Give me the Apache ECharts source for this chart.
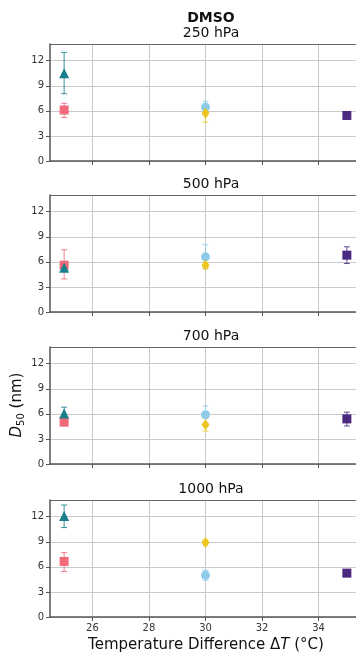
<!DOCTYPE html>
<html><head><meta charset="utf-8">
<script src="https://cdn.jsdelivr.net/npm/echarts@6/dist/echarts.min.js"></script>
<style>html,body{margin:0;padding:0;background:#fff}#c{width:356px;height:654px}</style>
</head><body><div id="c"></div>
<script>
const panelTitles = ['250 hPa', '500 hPa', '700 hPa', '1000 hPa'];
const xTickValues = [26, 28, 30, 32, 34];
const yTickValues = [0, 3, 6, 9, 12];

// each series: x position, values per panel, lower & upper error bounds per panel
const redX = 25;
const redY  = [6.1, 5.6, 5.0, 6.65];
const redLo = [5.2, 3.95, 4.85, 5.45];
const redHi = [6.9, 7.45, 5.15, 7.7];

const tealX = 25;
const tealY  = [10.5, 5.3, 6.05, 12.1];
const tealLo = [8.05, 5.05, 5.4, 10.7];
const tealHi = [13.0, 5.55, 6.8, 13.4];

const blueX = 30;
const blueY  = [6.45, 6.6, 5.9, 5.0];
const blueLo = [5.75, 5.15, 4.85, 4.4];
const blueHi = [7.15, 8.05, 6.95, 5.6];

const yellowX = 30;
const yellowY  = [5.7, 5.6, 4.7, 8.9];
const yellowLo = [4.65, 5.25, 3.95, 8.6];
const yellowHi = [6.3, 5.95, 5.45, 9.2];

const purpleX = 35;
const purpleY  = [5.45, 6.8, 5.4, 5.25];
const purpleLo = [5.0, 5.8, 4.55, 5.0];
const purpleHi = [5.85, 7.8, 6.2, 5.5];

const groups = [
  {x: redX, y: redY, lo: redLo, hi: redHi, color: '#f06a7a', symbol: 'rect', size: 9},
  {x: tealX, y: tealY, lo: tealLo, hi: tealHi, color: '#17808a', symbol: 'triangle', size: 10},
  {x: blueX, y: blueY, lo: blueLo, hi: blueHi, color: '#8ecbe8', symbol: 'circle', size: 9},
  {x: yellowX, y: yellowY, lo: yellowLo, hi: yellowHi, color: '#ecc51e', symbol: 'diamond', size: [8, 11]},
  {x: purpleX, y: purpleY, lo: purpleLo, hi: purpleHi, color: '#4a2a80', symbol: 'rect', size: 9}
];

const FONT = 'DejaVu Sans';
const tops = [44, 195, 347, 500];
const gridH = 117;

const grids = [], xAxes = [], yAxes = [], titles = [], series = [];
tops.forEach((t, i) => {
  grids.push({left: 50, top: t, width: 311, height: gridH, show: false,
    containLabel: false, outerBoundsMode: 'none'});
  xAxes.push({
    gridIndex: i, type: 'value', min: 24.5, max: 35.5,
    axisLine: {show: true, onZero: false, lineStyle: {color: '#555', width: 1.5}},
    axisTick: {show: true, length: 4, customValues: xTickValues, lineStyle: {color: '#555'}},
    axisLabel: {show: i === 3, customValues: xTickValues, fontFamily: FONT, fontSize: 10, color: '#333', margin: 6},
    splitLine: {show: true, lineStyle: {color: '#cacaca', width: 1}}
  });
  yAxes.push({
    gridIndex: i, type: 'value', min: 0, max: 14, interval: 3,
    axisLine: {show: true, onZero: false, lineStyle: {color: '#555', width: 1.5}},
    axisTick: {show: true, length: 4, lineStyle: {color: '#555'}},
    axisLabel: {fontFamily: FONT, fontSize: 10, color: '#333', margin: 6, showMaxLabel: false},
    splitLine: {show: true, lineStyle: {color: '#cacaca', width: 1}}
  });
  titles.push({text: panelTitles[i], left: 206, top: t - 23, textAlign: 'center',
    textStyle: {fontFamily: FONT, fontSize: 14, fontWeight: 'normal', color: '#111'}});
});
// top spines
tops.forEach((t, i) => {
  xAxes.push({
    gridIndex: i, type: 'value', position: 'top', min: 24.5, max: 35.5,
    axisLine: {show: true, onZero: false, lineStyle: {color: '#666', width: 1.2}},
    axisTick: {show: false}, axisLabel: {show: false}, splitLine: {show: false}
  });
});
tops.forEach((t, i) => {
  groups.forEach(g => {
    series.push({
      type: 'custom', xAxisIndex: i, yAxisIndex: i,
      encode: {x: 0, y: [1, 2]},
      data: [[g.x, g.lo[i], g.hi[i]]],
      renderItem: (params, api) => {
        const x = api.value(0);
        const p1 = api.coord([x, api.value(1)]);
        const p2 = api.coord([x, api.value(2)]);
        const w = 3;
        const st = {stroke: g.color, lineWidth: 1, opacity: 0.85};
        return {type: 'group', children: [
          {type: 'line', shape: {x1: p1[0], y1: p1[1], x2: p2[0], y2: p2[1]}, style: st},
          {type: 'line', shape: {x1: p1[0] - w, y1: p1[1], x2: p1[0] + w, y2: p1[1]}, style: st},
          {type: 'line', shape: {x1: p2[0] - w, y1: p2[1], x2: p2[0] + w, y2: p2[1]}, style: st}
        ]};
      },
      silent: true, animation: false
    });
    series.push({
      type: 'scatter', xAxisIndex: i, yAxisIndex: i,
      symbol: g.symbol, symbolSize: g.size,
      itemStyle: {color: g.color, opacity: 1},
      data: [[g.x, g.y[i]]],
      animation: false
    });
  });
});
titles.unshift({text: 'DMSO', left: 206, top: 6, textAlign: 'center',
  textStyle: {fontFamily: FONT, fontSize: 14, fontWeight: 'bold', color: '#111'}});

const chart = echarts.init(document.getElementById('c'), null, {renderer: 'canvas'});
chart.setOption({
  animation: false,
  title: titles,
  grid: grids, xAxis: xAxes, yAxis: yAxes, series: series,
  graphic: [
    {type: 'text', x: 8, y: 405, rotation: Math.PI / 2,
      style: {text: '{i|D}{s|50}{n| (nm)}', align: 'center', verticalAlign: 'top',
        rich: {i: {fontFamily: FONT, fontSize: 15, fontStyle: 'italic', fill: '#111'},
               s: {fontFamily: FONT, fontSize: 10, fill: '#111', padding: [8, 0, 0, 0]},
               n: {fontFamily: FONT, fontSize: 15, fill: '#111'}}}},
    {type: 'text', x: 206, y: 638,
      style: {text: '{n|Temperature Difference Δ}{i|T}{n| (°C)}', align: 'center', verticalAlign: 'top',
        rich: {i: {fontFamily: FONT, fontSize: 15, fontStyle: 'italic', fill: '#111'},
               n: {fontFamily: FONT, fontSize: 15, fill: '#111'}}}}
  ]
});
</script></body></html>
